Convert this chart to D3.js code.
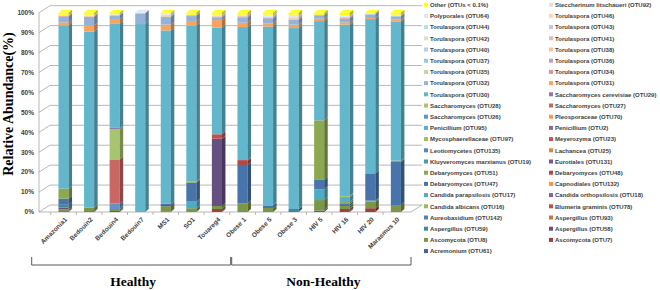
<!DOCTYPE html>
<meta charset="utf-8">
<style>
  body { margin: 0; background: #fff; }
  svg text { font-family: "Liberation Sans", Arial, sans-serif; }
  svg text.serif { font-family: "Liberation Serif", "Times New Roman", serif; }
</style>
<body>
<svg id="chart" width="660" height="290"></svg>
</body>
<script src="https://d3js.org/d3.v7.min.js"></script>
<script>
// samples along the x axis
var samples = ["Amazonia1", "Bedouin2", "Bedouin4", "Bedouin7", "MS1", "SO1", "Touareg4",
  "Obese 1", "Obese 5", "Obese 3", "HIV 5", "HIV 16", "HIV 20", "Marasmus 10"];

// taxa in stacking order (bottom first)
var taxa = [
  "Acremonium (OTU61)", "Ascomycota (OTU7)", "Ascomycota (OTU8)", "Aspergillus (OTU58)",
  "Aspergillus (OTU59)", "Aspergillus (OTU93)", "Aureobasidium (OTU142)", "Blumeria graminis (OTU78)",
  "Candida albicans (OTU16)", "Candida orthopsilosis (OTU18)", "Candida parapsilosis (OTU17)",
  "Capnodiales (OTU132)", "Debaryomyces (OTU47)", "Debaryomyces (OTU48)", "Debaryomyces (OTU51)",
  "Eurotiales (OTU131)", "Kluyveromyces marxianus (OTU19)", "Lachancea (OTU25)",
  "Leotiomycetes (OTU135)", "Meyerozyma (OTU23)", "Mycosphaerellaceae (OTU97)", "Penicillium (OTU2)",
  "Penicillium (OTU95)", "Pleosporaceae (OTU70)", "Saccharomyces (OTU26)", "Saccharomyces (OTU27)",
  "Saccharomyces (OTU28)", "Saccharomyces cerevisiae (OTU29)", "Torulaspora (OTU30)",
  "Torulaspora (OTU31)", "Torulaspora (OTU32)", "Torulaspora (OTU34)", "Torulaspora (OTU35)",
  "Torulaspora (OTU36)", "Torulaspora (OTU37)", "Torulaspora (OTU38)", "Torulaspora (OTU40)",
  "Torulaspora (OTU41)", "Torulaspora (OTU42)", "Torulaspora (OTU43)", "Torulaspora (OTU44)",
  "Torulaspora (OTU46)", "Polyporales (OTU64)", "Steccherinum litschaueri (OTU92)", "Other (OTUs < 0.1%)"
];

// relative abundance (%) per taxon, one value per sample
var acremonium61     = [0.4, 0.4, 0.5, 0, 0.3, 0, 0.5, 0, 0, 0, 0.7, 0.5, 0, 0];
var ascomycota7      = [0, 0, 0, 0, 0, 0, 1.0, 0, 0, 0, 0, 1.0, 1.9, 0];
var ascomycota8      = [1.0, 1.8, 1.0, 0, 2.6, 1.9, 1.5, 4.4, 2.0, 0, 5.3, 1.5, 3.3, 3.5];
var aspergillus58    = [0.8, 0, 0, 0, 0.6, 0, 33.8, 0, 0, 0, 0, 0, 0, 0];
var aspergillus59    = [1.5, 0, 0, 0, 0, 0, 0, 0, 0, 1.5, 0, 0, 0, 0];
var aspergillus93    = [0, 0, 0, 0, 0, 0, 0, 0, 0, 0, 0, 0, 0, 0];
var aureobasidium142 = [0, 0, 0, 0, 0, 0, 0, 0, 0, 0, 0, 0, 0, 0];
var blumeria78       = [0, 0, 0, 0, 0, 0, 2.2, 0, 0, 0, 0, 0, 0, 0];
var candidaAlb16     = [0, 0, 0, 0, 0, 0, 0, 0, 0, 0, 0, 0, 0, 0];
var candidaOrtho18   = [0, 0, 0, 0, 0, 0, 0, 0, 0, 0, 0, 0, 0, 0];
var candidaPara17    = [0, 0, 0, 0, 0, 3.3, 0, 0, 0, 0, 5.4, 0, 0.5, 0];
var capnodiales132   = [0, 0, 0, 0, 0, 0, 0, 0, 0, 0, 0, 0, 0, 0];
var debaryomyces47   = [3.0, 0, 0, 0, 0.6, 9.5, 0, 19.2, 1.2, 0, 4.7, 1.0, 13.7, 21.6];
var debaryomyces48   = [0, 0, 0, 0, 0, 0, 0, 2.0, 0, 0, 0, 0, 0, 0];
var debaryomyces51   = [5.0, 0, 0, 0, 0, 0.5, 0, 0, 0.3, 0, 29.9, 1.0, 0, 0.7];
var eurotiales131    = [0, 0, 0, 0, 0, 0, 0, 0, 0, 0, 0, 0, 0, 0];
var kluyveromyces19  = [0, 0, 0, 0, 0, 0, 0, 0, 0, 0, 0, 0, 0, 0];
var lachancea25      = [0, 0, 0, 0, 0, 0, 0, 0, 0, 0, 0, 0, 0, 0];
var leotiomycetes135 = [0, 0, 0, 0, 0, 0, 0, 0, 0, 0, 0, 0, 0, 0];
var meyerozyma23     = [0, 0, 0, 0, 0, 0, 0, 0.5, 0, 0, 0, 0, 0, 0];
var mycosphaer97     = [0, 0, 0, 0, 0, 0, 0, 0, 0, 0, 0, 0, 0, 0];
var penicillium2     = [0, 0, 0, 0, 0, 0, 0, 0, 0, 0, 0, 0, 0, 0];
var penicillium95    = [0, 0, 0, 0, 0, 0, 0, 0, 0, 0, 0, 2.5, 0, 0];
var pleosporaceae70  = [0, 0, 0, 0, 0, 0, 0, 0, 0, 0, 0, 0, 0, 0];
var saccharomyces26  = [0, 0, 2.7, 0, 0, 0, 0, 0, 0, 0, 0, 0, 0, 0];
var saccharomyces27  = [0, 0, 22.2, 0, 0, 0, 0, 0, 0, 0, 0, 0, 0, 0];
var saccharomyces28  = [0, 0, 15.2, 0, 0, 0, 0, 0, 0, 0, 0, 0.5, 0, 0];
var cerevisiae29     = [0, 0, 0.6, 0, 0, 0, 0, 0, 0, 0, 0, 0, 0, 0];
var torulaspora30    = [81.9, 88.3, 52.2, 94.3, 87.0, 78.3, 53.6, 66.7, 89.6, 90.8, 49.8, 86.0, 77.4, 69.8];
var torulaspora31    = [1.5, 3.0, 2.0, 0, 2.9, 1.9, 3.7, 2.2, 1.5, 1.7, 1.2, 1.1, 0.5, 1.0];
var torulaspora32    = [3.0, 4.5, 2.2, 5.4, 3.8, 2.9, 1.3, 2.5, 2.4, 2.5, 1.7, 2.0, 1.9, 1.6];
var torulaspora34    = [0.3, 0, 0, 0, 0.3, 0, 0.3, 0.3, 0, 0, 0, 0.3, 0, 0];
var torulaspora35    = [0, 0, 0, 0, 0, 0, 0, 0, 0, 0.5, 0, 0, 0, 0];
var torulaspora36    = [0, 0, 0, 0, 0, 0.4, 0, 0, 0.5, 0, 0, 0, 0, 0];
var torulaspora37    = [0, 0, 0, 0, 0, 0, 0, 0, 0, 0, 0.3, 0, 0, 0];
var torulaspora38    = [0, 0.3, 0, 0, 0, 0, 0, 0, 0, 0.5, 0, 0, 0, 0];
var torulaspora40    = [0, 0, 0.3, 0, 0, 0, 0, 0, 0, 0, 0, 0.4, 0, 0];
var torulaspora41    = [0, 0, 0, 0, 0, 0, 0.3, 0.4, 0, 0, 0, 0, 0, 0];
var torulaspora42    = [0, 0, 0, 0, 0.3, 0, 0, 0, 0, 0.4, 0, 0, 0, 0];
var torulaspora43    = [0, 0, 0, 0, 0, 0, 0, 0.4, 0, 0, 0, 0, 0, 0];
var torulaspora44    = [0.3, 0, 0, 0, 0.4, 0, 0, 0, 0.5, 0, 0, 0, 0, 0.4];
var torulaspora46    = [0, 0, 0, 0, 0, 0, 0.3, 0, 0, 0, 0, 0, 0, 0];
var polyporales64    = [0, 0.4, 0.3, 0.3, 0.3, 0, 0, 0, 0.5, 0.5, 0, 0.4, 0.4, 0];
var steccherinum92   = [0.3, 0.3, 0, 0, 0.4, 0.3, 0.5, 0.4, 0.5, 0.6, 0, 0.4, 0, 0.4];
var otherOTUs        = [1.0, 1.0, 0.8, 0, 0.5, 1.0, 1.0, 1.0, 1.0, 1.0, 1.0, 1.4, 0.4, 1.0];

var abundance = [acremonium61, ascomycota7, ascomycota8, aspergillus58, aspergillus59, aspergillus93,
  aureobasidium142, blumeria78, candidaAlb16, candidaOrtho18, candidaPara17, capnodiales132,
  debaryomyces47, debaryomyces48, debaryomyces51, eurotiales131, kluyveromyces19, lachancea25,
  leotiomycetes135, meyerozyma23, mycosphaer97, penicillium2, penicillium95, pleosporaceae70,
  saccharomyces26, saccharomyces27, saccharomyces28, cerevisiae29, torulaspora30, torulaspora31,
  torulaspora32, torulaspora34, torulaspora35, torulaspora36, torulaspora37, torulaspora38,
  torulaspora40, torulaspora41, torulaspora42, torulaspora43, torulaspora44, torulaspora46,
  polyporales64, steccherinum92, otherOTUs];

// group labels under the axis
var groups = [
  {name: "Healthy", from: "Amazonia1", to: "Touareg4"},
  {name: "Non-Healthy", from: "Obese 1", to: "Marasmus 10"}
];
var yTicks = [0, 10, 20, 30, 40, 50, 60, 70, 80, 90, 100];

// build rows for d3.stack
var rows = samples.map(function(s, j){
  var r = {sample: s};
  taxa.forEach(function(t, i){ r[t] = abundance[i][j]; });
  return r;
});

// Excel-like palette: six accent hues, shaded per block of six series
var accents = ["#4F81BD", "#C0504D", "#9BBB59", "#8064A2", "#4BACC6", "#F79646"];
var shades = [-0.2, 0, -0.1, 0.05, 0.13, 0.4, 0.6, 0.8];
function taxonColor(i){
  if (i === taxa.length - 1) return "#FFFF00";
  var base = accents[i % 6], k = shades[Math.floor(i / 6)];
  return k < 0 ? d3.interpolateRgb(base, "#000")(-k) : d3.interpolateRgb(base, "#fff")(k);
}

var svg = d3.select("#chart");
var depth = {dx: 3.5, dy: -3}, wall = {dx: 11, dy: -7};

var x = d3.scaleBand().domain(samples).range([43, 416.4]).padding(0.606);
var y = d3.scaleLinear().domain([0, 100]).range([212, 12.7]);
var xLeft = 39, xRight = 411;

// walls and gridlines
var grid = svg.append("g").attr("stroke", "#a6a6a6").attr("stroke-width", 0.8).attr("fill", "none");
yTicks.forEach(function(v){
  grid.append("line").attr("x1", xLeft + wall.dx).attr("x2", xRight + wall.dx)
    .attr("y1", y(v) + wall.dy).attr("y2", y(v) + wall.dy);
  grid.append("line").attr("x1", xLeft).attr("x2", xLeft + wall.dx)
    .attr("y1", y(v)).attr("y2", y(v) + wall.dy);
});
grid.append("line").attr("x1", xLeft).attr("x2", xLeft).attr("y1", y(0)).attr("y2", y(100));
grid.append("line").attr("x1", xLeft).attr("x2", xRight).attr("y1", y(0)).attr("y2", y(0));
grid.append("line").attr("x1", xRight).attr("x2", xRight + wall.dx).attr("y1", y(0)).attr("y2", y(0) + wall.dy);
samples.forEach(function(s){
  var bx = x(s) - x.step() * x.paddingInner() / 2;
  grid.append("line").attr("x1", bx).attr("x2", bx).attr("y1", y(0)).attr("y2", y(0) + 3);
});

// y axis labels
svg.append("g").selectAll("text").data(yTicks).join("text")
  .attr("x", 34).attr("y", function(d){ return y(d) + 2.3; })
  .attr("text-anchor", "end").attr("font-size", 6.5).attr("font-weight", "bold").attr("fill", "#404040")
  .text(function(d){ return d + "%"; });

// stacked 3D bars
var series = d3.stack().keys(taxa)(rows);
var bw = x.bandwidth();
var bars = svg.append("g");
series.forEach(function(s, i){
  var c = taxonColor(i);
  s.forEach(function(d){
    if (d[1] - d[0] <= 0) return;
    var x0 = x(d.data.sample), yt = y(d[1]), yb = y(d[0]);
    bars.append("rect").attr("x", x0).attr("y", yt).attr("width", bw).attr("height", yb - yt)
      .attr("fill", c);
    bars.append("path")
      .attr("d", "M" + (x0 + bw) + "," + yt + "l" + depth.dx + "," + depth.dy +
        "L" + (x0 + bw + depth.dx) + "," + (yb + depth.dy) + "L" + (x0 + bw) + "," + yb + "Z")
      .attr("fill", d3.interpolateRgb(c, "#000")(0.3));
  });
});
// top faces
samples.forEach(function(s, j){
  var top = 0, ti = 0;
  series.forEach(function(ser, i){ if (ser[j][1] - ser[j][0] > 0) { top = ser[j][1]; ti = i; } });
  var x0 = x(s), yt = y(top);
  bars.append("path")
    .attr("d", "M" + x0 + "," + yt + "l" + depth.dx + "," + depth.dy + "l" + bw + ",0l" + (-depth.dx) + "," + (-depth.dy) + "Z")
    .attr("fill", d3.interpolateRgb(taxonColor(ti), "#fff")(0.15));
});

// category labels
svg.append("g").selectAll("text").data(samples).join("text")
  .attr("transform", function(d){ return "translate(" + (x(d) + bw / 2 + 4) + ",220) rotate(-45)"; })
  .attr("text-anchor", "end").attr("font-size", 6.5).attr("font-weight", "bold").attr("fill", "#404040")
  .text(function(d){ return d; });

// group brackets
var br = svg.append("g");
groups.forEach(function(g, k){
  var a = k === 0 ? 31.7 : x(g.from) - x.step() * x.paddingInner() / 2 + 2,
      b = k === 0 ? x(g.to) + x.step() - x.step() * x.paddingInner() / 2 + 1 : xRight;
  br.append("path").attr("d", "M" + a + ",257V265H" + b + "V257")
    .attr("fill", "none").attr("stroke", "#595959").attr("stroke-width", 1);
  br.append("text").attr("class", "serif").attr("x", (a + b) / 2 + 2).attr("y", 286)
    .attr("text-anchor", "middle").attr("font-weight", "bold").attr("font-size", 13.5).text(g.name);
});

// y axis title
svg.append("text").attr("class", "serif").attr("transform", "translate(13,104) rotate(-90)")
  .attr("text-anchor", "middle").attr("font-weight", "bold").attr("font-size", 14)
  .text("Relative Abundance(%)");

// legend, reverse stacking order, two columns
var legendItems = taxa.map(function(t, i){ return {name: t, i: i}; }).reverse();
var lg = svg.append("g").selectAll("g").data(legendItems).join("g")
  .attr("transform", function(d, k){ return "translate(" + (k % 2 ? 549 : 424) + "," + (4.7 + 11.2 * Math.floor(k / 2)) + ")"; });
lg.append("rect").attr("x", 0).attr("y", -2).attr("width", 4).attr("height", 4)
  .attr("fill", function(d){ return taxonColor(d.i); });
lg.append("text").attr("x", 6).attr("y", 2.2).attr("font-size", 6).attr("font-weight", "bold")
  .attr("fill", "#404040").text(function(d){ return d.name; });
</script>
